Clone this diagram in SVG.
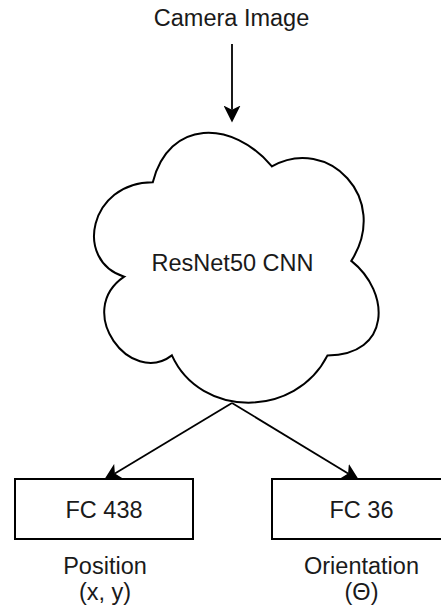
<svg xmlns="http://www.w3.org/2000/svg" width="441" height="607" viewBox="0 0 441 607">
  <defs>
    <!-- classic filled arrowhead; reference point is the notch so the line stays hidden -->
    <marker id="arrow" viewBox="0 0 17 17" refX="4.25" refY="8.5" markerWidth="17" markerHeight="17" markerUnits="userSpaceOnUse" orient="auto">
      <path d="M0 0 L17 8.5 L0 17 L4.25 8.5 Z" fill="#000"/>
    </marker>
  </defs>
  <style>
    .shape { fill: #fff; stroke: #000; stroke-width: 2; }
    .edge { fill: none; stroke: #000; stroke-width: 1.8; marker-end: url(#arrow); }
    .label { font-family: "Liberation Sans", Arial, sans-serif; font-size: 23.5px; fill: #1a1a1a; text-anchor: middle; }
  </style>

  <rect width="441" height="607" fill="#fff"/>

  <g id="connectors">
    <line class="edge" x1="232" y1="44" x2="232" y2="109.75"/>
    <line class="edge" x1="232" y1="403" x2="114.9" y2="473.4"/>
    <line class="edge" x1="232" y1="403" x2="348.1" y2="473.4"/>
  </g>

  <g id="camera-image">
    <text class="label" x="231.5" y="25.5">Camera Image</text>
  </g>

  <g id="resnet-cnn">
    <path class="shape" d="M152.8 182.2 C89.3 182.2 73.4 260.9 124.2 276.7 C73.4 311.3 130.6 386.9 171.9 355.4 C200.4 418.4 295.7 418.4 327.5 355.4 C391 355.4 391 292.4 351.3 260.9 C391 197.9 327.5 134.9 271.9 166.4 C232.2 119.2 168.7 119.2 152.8 182.2 Z"/>
    <text class="label" x="232.5" y="270.5">ResNet50 CNN</text>
  </g>

  <g id="fc-438">
    <rect class="shape" x="15" y="479" width="178" height="60"/>
    <text class="label" x="104" y="518">FC 438</text>
  </g>

  <g id="fc-36">
    <rect class="shape" x="272" y="479" width="178" height="60"/>
    <text class="label" x="361.5" y="518">FC 36</text>
  </g>

  <g id="position-label">
    <text class="label" x="105" y="574">Position</text>
    <text class="label" x="105" y="600">(x, y)</text>
  </g>

  <g id="orientation-label">
    <text class="label" x="361.5" y="574">Orientation</text>
    <text class="label" x="361.5" y="600">(Θ)</text>
  </g>
</svg>
